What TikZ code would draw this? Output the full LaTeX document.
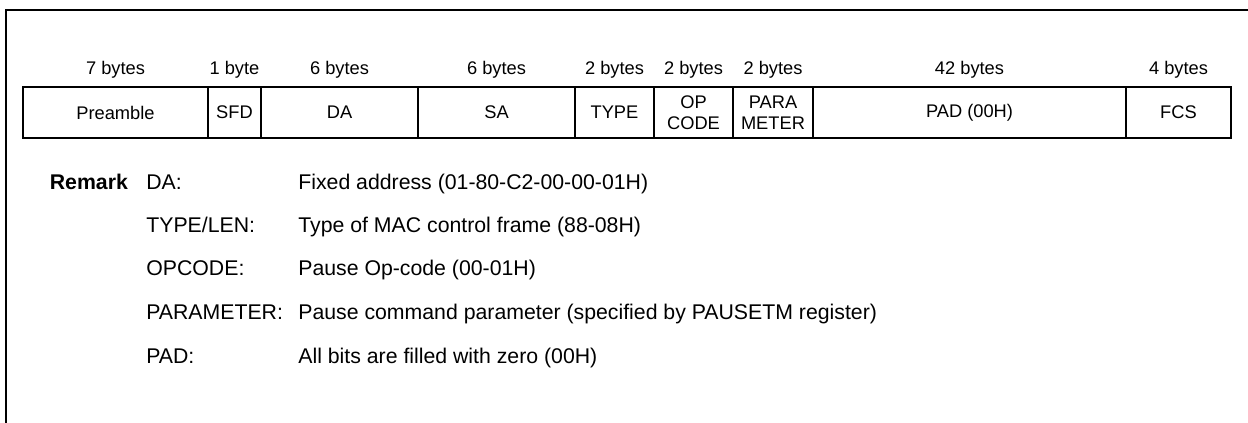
\documentclass[tikz,border=0pt]{standalone}
\usepackage{fontspec}
\setmainfont{Liberation Sans}
\usetikzlibrary{positioning}

\begin{document}
\begin{tikzpicture}[
    node distance=0pt,
    txt/.style={font=\fontsize{10.4}{12}\selectfont},
    field/.style={txt, draw, line width=1.1pt, outer sep=0pt, inner sep=0pt,
      minimum height=1.02cm, align=center},
    bytes/.style={txt, anchor=base, inner sep=0pt},
    remtext/.style={font=\fontsize{12.1}{14}\selectfont, anchor=base west, inner sep=0pt}
  ]
  \useasboundingbox (0,0) rectangle (24.96,8.46);
  \draw[line width=1.6pt] (0.12,0) -- (0.12,8.26) -- (24.96,8.26);

  % frame fields
  \node[field, minimum width=3.70cm] (pre) at (2.31,6.21) {Preamble};
  \node[field, minimum width=1.06cm, right=of pre] (sfd) {SFD};
  \node[field, minimum width=3.14cm, right=of sfd] (da) {DA};
  \node[field, minimum width=3.14cm, right=of da] (sa) {SA};
  \node[field, minimum width=1.58cm, right=of sa] (type) {TYPE};
  \node[field, minimum width=1.58cm, right=of type] (opcode) {OP\\CODE};
  \node[field, minimum width=1.60cm, right=of opcode] (param) {PARA\\METER};
  \node[field, minimum width=6.26cm, right=of param] (pad) {PAD (00H)};
  \node[field, minimum width=2.10cm, right=of pad] (fcs) {FCS};

  % byte counts
  \coordinate (lenrow) at (0,6.97);
  \node[bytes] (pre-len) at (pre |- lenrow) {7 bytes};
  \node[bytes] (sfd-len) at (sfd |- lenrow) {1 byte};
  \node[bytes] (da-len) at (da |- lenrow) {6 bytes};
  \node[bytes] (sa-len) at (sa |- lenrow) {6 bytes};
  \node[bytes] (type-len) at (type |- lenrow) {2 bytes};
  \node[bytes] (opcode-len) at (opcode |- lenrow) {2 bytes};
  \node[bytes] (param-len) at (param |- lenrow) {2 bytes};
  \node[bytes] (pad-len) at (pad |- lenrow) {42 bytes};
  \node[bytes] (fcs-len) at (fcs |- lenrow) {4 bytes};

  % remarks
  \node[remtext, font=\fontsize{12.1}{14}\selectfont\bfseries] (remark) at (0.99,4.67) {Remark};
  \node[remtext] (da-key) at (2.92,4.67) {DA:};
  \node[remtext] (da-desc) at (5.96,4.67) {Fixed address (01-80-C2-00-00-01H)};
  \node[remtext] (type-key) at (2.92,3.81) {TYPE/LEN:};
  \node[remtext] (type-desc) at (5.96,3.81) {Type of MAC control frame (88-08H)};
  \node[remtext] (opcode-key) at (2.92,2.95) {OPCODE:};
  \node[remtext] (opcode-desc) at (5.96,2.95) {Pause Op-code (00-01H)};
  \node[remtext] (param-key) at (2.92,2.07) {PARAMETER:};
  \node[remtext] (param-desc) at (5.96,2.07) {Pause command parameter (specified by PAUSETM register)};
  \node[remtext] (pad-key) at (2.92,1.19) {PAD:};
  \node[remtext] (pad-desc) at (5.96,1.19) {All bits are filled with zero (00H)};
\end{tikzpicture}
\end{document}
